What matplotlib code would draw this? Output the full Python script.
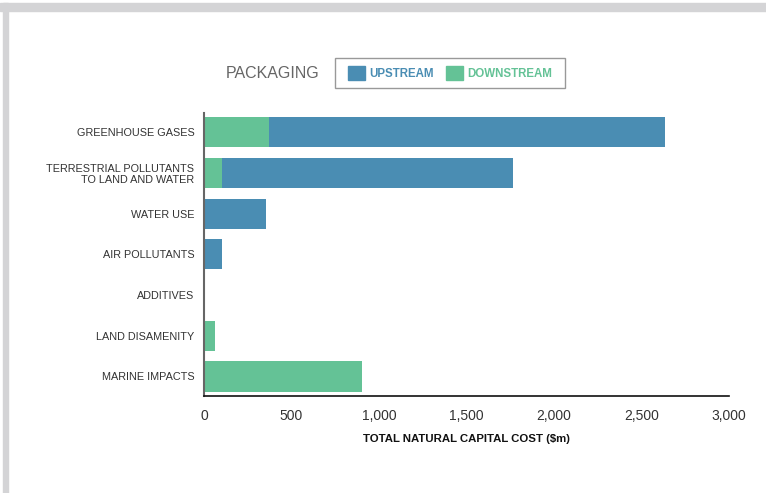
import numpy as np
import matplotlib
matplotlib.use("Agg")
from matplotlib import pyplot as plt
from matplotlib.patches import Rectangle, Patch

plt.rcParams['font.family'] = ['Liberation Sans', 'DejaVu Sans']

# values, $m
categories = ["GREENHOUSE GASES", "TERRESTRIAL POLLUTANTS\nTO LAND AND WATER", "WATER USE",
              "AIR POLLUTANTS", "ADDITIVES", "LAND DISAMENITY", "MARINE IMPACTS"]
downstream = [370, 103, 5, 5, 8, 63, 905]
upstream = [2265, 1663, 350, 99, 0, 0, 0]
xticks = [0, 500, 1000, 1500, 2000, 2500, 3000]

blue = '#4a8db3'
green = '#64c296'

W, H = 766, 493
fig = plt.figure(figsize=(W / 100, H / 100), dpi=100)

# grey frame on top and left
fig.patches.append(Rectangle((0, 1 - 11 / H), 1, 8 / H, transform=fig.transFigure,
                             color='#d4d4d6', zorder=0))
fig.patches.append(Rectangle((3 / W, 0), 5 / W, 1 - 3 / H, transform=fig.transFigure,
                             color='#d4d4d6', zorder=0))

ax = fig.add_axes([204 / W, 1 - 396 / H, 525 / W, 283 / H])
y = np.arange(len(categories))
ax.barh(y, downstream, height=0.74, color=green)
ax.barh(y, upstream, left=downstream, height=0.74, color=blue)

ax.set_xlim(0, 3000)
ax.set_ylim(6.48, -0.47)
ax.set_yticks(y)
ax.set_yticklabels(categories, fontsize=7.8, color='#333333', multialignment='right')
ax.set_xticks(xticks)
ax.set_xticklabels(['{:,}'.format(v) for v in xticks], fontsize=10, color='#333333')
ax.tick_params(axis='y', length=0, pad=7)
ax.tick_params(axis='x', length=0, pad=9)
ax.set_xlabel('TOTAL NATURAL CAPITAL COST ($m)', fontsize=8.2, fontweight='bold',
              color='#111111', labelpad=8)

for s in ['top', 'right']:
    ax.spines[s].set_visible(False)
ax.spines['left'].set_color('#666666')
ax.spines['left'].set_linewidth(1.5)
ax.spines['bottom'].set_color('#111111')
ax.spines['bottom'].set_linewidth(1.2)

fig.text(273 / W, 1 - 73 / H, 'PACKAGING', fontsize=11.5, color='#666666',
         ha='center', va='center')

# legend box drawn separately so the padding matches
fig.patches.append(Rectangle((335 / W, 1 - 88 / H), 230 / W, 30 / H, transform=fig.transFigure,
                             facecolor='white', edgecolor='#999999', linewidth=1, zorder=1))
handles = [Patch(color=blue, label='UPSTREAM'), Patch(color=green, label='DOWNSTREAM')]
leg = fig.legend(handles=handles, loc='center', bbox_to_anchor=(450 / W, 1 - 73 / H),
                 ncol=2, prop={'size': 8.3, 'weight': 'bold'}, handlelength=1.5,
                 handleheight=1.4, handletextpad=0.35, columnspacing=1.1,
                 frameon=False)
for t, c in zip(leg.get_texts(), [blue, green]):
    t.set_color(c)

fig.savefig('out.png', dpi=100)
